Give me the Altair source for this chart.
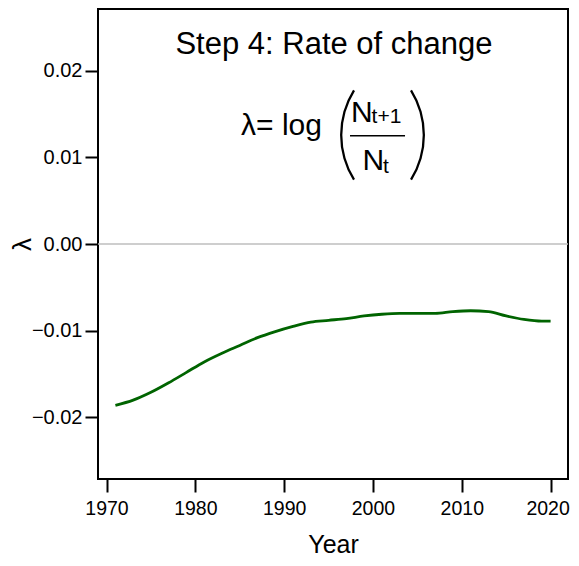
import altair as alt
import pandas as pd

# ---- data ----
years = [1971, 1973, 1975, 1977, 1979, 1981, 1983, 1985, 1987, 1989, 1991, 1993,
         1995, 1997, 1999, 2001, 2003, 2005, 2007, 2009, 2011, 2013, 2015, 2017,
         2019, 2020]
lam = [-0.0186, -0.0180, -0.0171, -0.0160, -0.0148, -0.0136, -0.0126, -0.0117,
       -0.0108, -0.0101, -0.0095, -0.0090, -0.0088, -0.0086, -0.0083, -0.0081,
       -0.0080, -0.0080, -0.0080, -0.0078, -0.0077, -0.0078, -0.0083, -0.0087,
       -0.0089, -0.0089]

x_ticks = [1970, 1980, 1990, 2000, 2010, 2020]
y_ticks = [-0.02, -0.01, 0.0, 0.01, 0.02]
x_domain = [1969.04, 2021.96]
y_domain = [-0.0271, 0.0271]

title_text = ["Step 4: Rate of change"]
title_x = [1995.61]
title_y = [0.021875]

lhs_text = ["λ= log"]
lhs_x = [1994.26]
lhs_y = [0.012569]

frac_text = ["N", "t+1", "N", "t"]
frac_x = [1997.53, 1999.84, 1998.83, 2001.13]
frac_y = [0.01410, 0.01399, 0.008533, 0.008153]
frac_size = [30, 21, 30, 21]

bar_x = [1997.415]
bar_x2 = [2003.61]
bar_y = [0.01249]

paren_x = [2005.92, 1996.23]
paren_y = [0.01257, 0.01257]
paren_t1 = [4.154, 1.012]
paren_t2 = [5.271, 2.129]

FONT = "Liberation Sans"

xs = alt.Scale(domain=x_domain, nice=False, zero=False)
ys = alt.Scale(domain=y_domain, nice=False, zero=False)

df = pd.DataFrame({"year": years, "lam": lam})

line = alt.Chart(df).mark_line(color="#006400", strokeWidth=2.8,
                               interpolate="monotone").encode(
    x=alt.X("year:Q", scale=xs,
            axis=alt.Axis(values=x_ticks, format="d", title="Year",
                          titleX=235, titleY=73, titleBaseline="alphabetic",
                          titleAlign="center", titleAngle=0,
                          labelFontSize=19.5,
                          labelOffset={"condition": {"test": "datum.value == 2020",
                                                     "value": -3},
                                       "value": 0})),
    y=alt.Y("lam:Q", scale=ys,
            axis=alt.Axis(values=y_ticks, format=".2f", title="λ",
                          titleX=-76, titleY=235, titleAngle=270,
                          titleAlign="center", titleBaseline="middle",
                          titleFontSize=26)),
)

zero = alt.Chart(pd.DataFrame({"z": [0.0]})).mark_rule(
    color="#bebebe", strokeWidth=1.3).encode(y=alt.Y("z:Q", scale=ys))

title = alt.Chart(pd.DataFrame({"t": title_text, "x": title_x, "y": title_y})).mark_text(
    font=FONT, fontSize=31, align="center", baseline="alphabetic", color="black"
).encode(x=alt.X("x:Q", scale=xs), y=alt.Y("y:Q", scale=ys), text="t:N")

lhs = alt.Chart(pd.DataFrame({"t": lhs_text, "x": lhs_x, "y": lhs_y})).mark_text(
    font=FONT, fontSize=30, align="right", baseline="alphabetic", color="black"
).encode(x=alt.X("x:Q", scale=xs), y=alt.Y("y:Q", scale=ys), text="t:N")

frac = alt.Chart(pd.DataFrame({"t": frac_text, "x": frac_x, "y": frac_y,
                               "s": frac_size})).mark_text(
    font=FONT, align="left", baseline="alphabetic", color="black"
).encode(x=alt.X("x:Q", scale=xs), y=alt.Y("y:Q", scale=ys), text="t:N",
         size=alt.Size("s:Q", scale=None))

bar = alt.Chart(pd.DataFrame({"x": bar_x, "x2": bar_x2, "y": bar_y})).mark_rule(
    color="black", strokeWidth=1.5
).encode(x=alt.X("x:Q", scale=xs), x2="x2:Q", y=alt.Y("y:Q", scale=ys))

parens = []
for px, py, t1, t2 in zip(paren_x, paren_y, paren_t1, paren_t2):
    parens.append(
        alt.Chart(pd.DataFrame({"x": [px], "y": [py]})).mark_arc(
            color="black", innerRadius=83.2, outerRadius=85.5, theta=t1, theta2=t2
        ).encode(x=alt.X("x:Q", scale=xs), y=alt.Y("y:Q", scale=ys))
    )

chart = alt.layer(zero, line, title, lhs, frac, bar, *parens).properties(
    width=470, height=470,
    padding={"left": 90, "top": 1, "right": 3, "bottom": 79},
    autosize=alt.AutoSizeParams(type="none"),
    background="white",
).configure_view(
    stroke="black", strokeWidth=2
).configure_axis(
    domain=False, grid=False, ticks=True, tickColor="black", tickWidth=2,
    tickSize=13, labelFont=FONT, labelFontSize=20, labelColor="black",
    titleFont=FONT, titleFontSize=25, titleColor="black", titleFontWeight="normal",
).configure_axisY(
    labelPadding=3,
).configure_axisX(
    labelPadding=7,
)

chart.save("out.html", embed_options={"renderer": "svg", "actions": False})
